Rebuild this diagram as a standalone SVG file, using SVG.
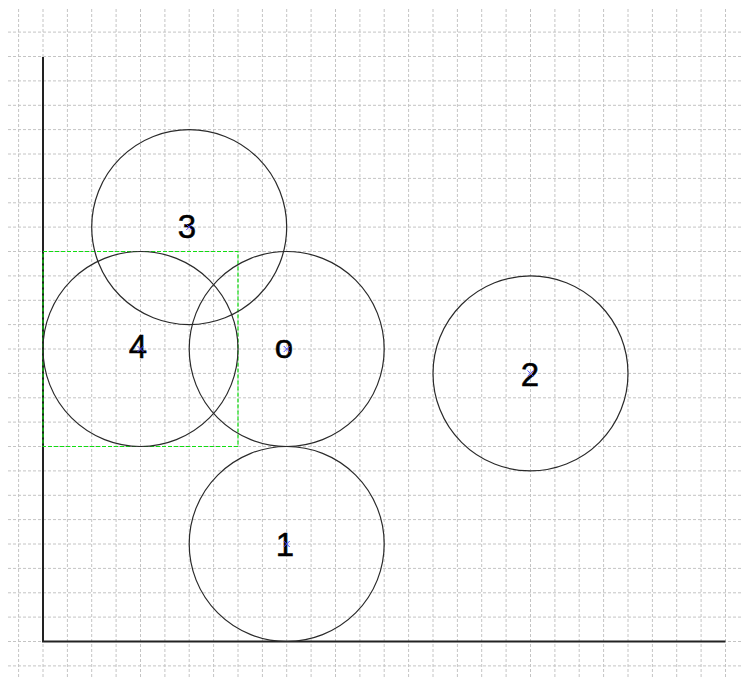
<svg xmlns="http://www.w3.org/2000/svg" width="743" height="679" viewBox="0 0 743 679">
<style>
.grid line{stroke:#c4c4c4;stroke-width:1;stroke-dasharray:3,2}
.circ{fill:none;stroke:#2a2a2a;stroke-width:1.2}
.lbl{font-family:"Liberation Sans",Arial,sans-serif;font-size:33px;fill:#000;stroke:#000;stroke-width:0.5;text-anchor:middle}
.mk{stroke:#4a4aff;stroke-width:1}
.axis{stroke:#222;stroke-width:2;fill:none}
.bbox{fill:none;stroke:#11dd11;stroke-width:1.2;stroke-dasharray:4,2}
</style>
<defs>
<g id="mark"><line class="mk" x1="-3" y1="-3" x2="3" y2="3"/><line class="mk" x1="-3" y1="3" x2="3" y2="-3"/></g>
</defs>
<rect width="743" height="679" fill="#fff"/>
<g class="grid">
<line x1="18.6" y1="9" x2="18.6" y2="679"/>
<line x1="43" y1="9" x2="43" y2="679"/>
<line x1="67.4" y1="9" x2="67.4" y2="679"/>
<line x1="91.7" y1="9" x2="91.7" y2="679"/>
<line x1="116.1" y1="9" x2="116.1" y2="679"/>
<line x1="140.5" y1="9" x2="140.5" y2="679"/>
<line x1="164.9" y1="9" x2="164.9" y2="679"/>
<line x1="189.2" y1="9" x2="189.2" y2="679"/>
<line x1="213.6" y1="9" x2="213.6" y2="679"/>
<line x1="238" y1="9" x2="238" y2="679"/>
<line x1="262.4" y1="9" x2="262.4" y2="679"/>
<line x1="286.7" y1="9" x2="286.7" y2="679"/>
<line x1="311.1" y1="9" x2="311.1" y2="679"/>
<line x1="335.5" y1="9" x2="335.5" y2="679"/>
<line x1="359.9" y1="9" x2="359.9" y2="679"/>
<line x1="384.2" y1="9" x2="384.2" y2="679"/>
<line x1="408.6" y1="9" x2="408.6" y2="679"/>
<line x1="433" y1="9" x2="433" y2="679"/>
<line x1="457.4" y1="9" x2="457.4" y2="679"/>
<line x1="481.7" y1="9" x2="481.7" y2="679"/>
<line x1="506.1" y1="9" x2="506.1" y2="679"/>
<line x1="530.5" y1="9" x2="530.5" y2="679"/>
<line x1="554.9" y1="9" x2="554.9" y2="679"/>
<line x1="579.2" y1="9" x2="579.2" y2="679"/>
<line x1="603.6" y1="9" x2="603.6" y2="679"/>
<line x1="628" y1="9" x2="628" y2="679"/>
<line x1="652.4" y1="9" x2="652.4" y2="679"/>
<line x1="676.7" y1="9" x2="676.7" y2="679"/>
<line x1="701.1" y1="9" x2="701.1" y2="679"/>
<line x1="725.5" y1="9" x2="725.5" y2="679"/>
<line x1="8" y1="665.9" x2="743" y2="665.9"/>
<line x1="8" y1="641.5" x2="743" y2="641.5"/>
<line x1="8" y1="617.1" x2="743" y2="617.1"/>
<line x1="8" y1="592.8" x2="743" y2="592.8"/>
<line x1="8" y1="568.4" x2="743" y2="568.4"/>
<line x1="8" y1="544" x2="743" y2="544"/>
<line x1="8" y1="519.6" x2="743" y2="519.6"/>
<line x1="8" y1="495.3" x2="743" y2="495.3"/>
<line x1="8" y1="470.9" x2="743" y2="470.9"/>
<line x1="8" y1="446.5" x2="743" y2="446.5"/>
<line x1="8" y1="422.1" x2="743" y2="422.1"/>
<line x1="8" y1="397.8" x2="743" y2="397.8"/>
<line x1="8" y1="373.4" x2="743" y2="373.4"/>
<line x1="8" y1="349" x2="743" y2="349"/>
<line x1="8" y1="324.6" x2="743" y2="324.6"/>
<line x1="8" y1="300.3" x2="743" y2="300.3"/>
<line x1="8" y1="275.9" x2="743" y2="275.9"/>
<line x1="8" y1="251.5" x2="743" y2="251.5"/>
<line x1="8" y1="227.1" x2="743" y2="227.1"/>
<line x1="8" y1="202.8" x2="743" y2="202.8"/>
<line x1="8" y1="178.4" x2="743" y2="178.4"/>
<line x1="8" y1="154" x2="743" y2="154"/>
<line x1="8" y1="129.6" x2="743" y2="129.6"/>
<line x1="8" y1="105.3" x2="743" y2="105.3"/>
<line x1="8" y1="80.9" x2="743" y2="80.9"/>
<line x1="8" y1="56.5" x2="743" y2="56.5"/>
<line x1="8" y1="32.1" x2="743" y2="32.1"/>
</g>
<g id="axes">
<polyline class="axis" points="43,57 43,641.5 725.5,641.5"/>
</g>
<rect class="bbox" x="43" y="251.5" width="195" height="195"/>
<g id="node-0">
<circle class="circ" cx="286.7" cy="349" r="97.5"/>
<text class="lbl" x="284" y="358">o</text>
<use href="#mark" x="286.7" y="349"/>
</g>
<g id="node-1">
<circle class="circ" cx="286.7" cy="544" r="97.5"/>
<text class="lbl" x="285" y="556">1</text>
<use href="#mark" x="286.7" y="544"/>
</g>
<g id="node-2">
<circle class="circ" cx="530.5" cy="373.4" r="97.5"/>
<text class="lbl" x="530" y="386">2</text>
<use href="#mark" x="530.5" y="373.4"/>
</g>
<g id="node-3">
<circle class="circ" cx="189.2" cy="227.1" r="97.5"/>
<text class="lbl" x="187" y="238">3</text>
<use href="#mark" x="189.2" y="227.1"/>
</g>
<g id="node-4">
<circle class="circ" cx="140.5" cy="349" r="97.5"/>
<text class="lbl" x="138" y="358">4</text>
<use href="#mark" x="140.5" y="349"/>
</g>
</svg>
